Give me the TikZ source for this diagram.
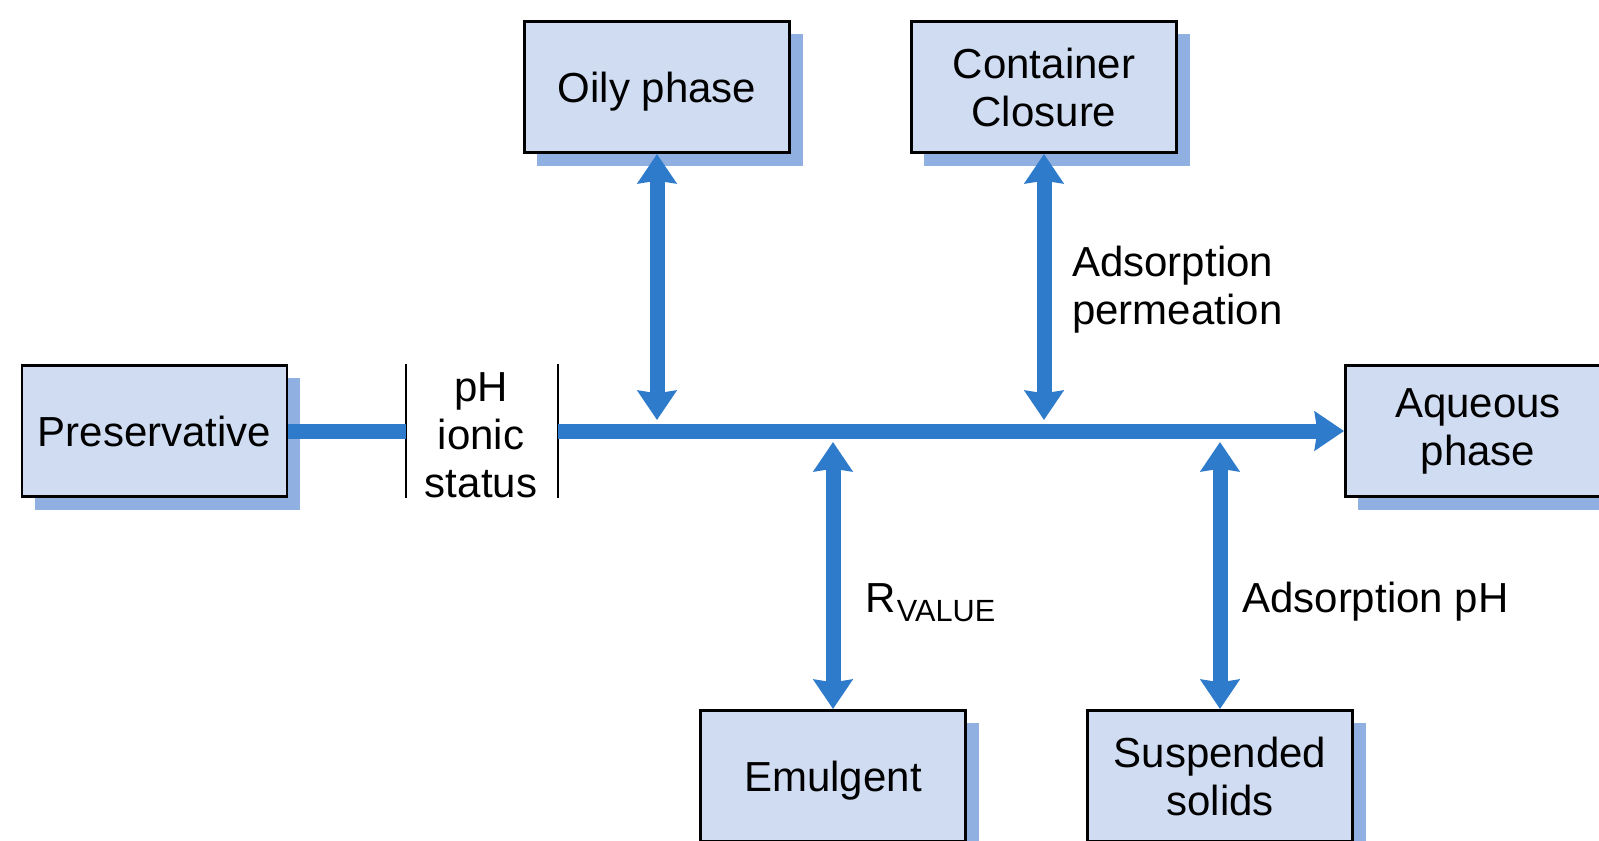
\documentclass[tikz,border=0pt]{standalone}
\usepackage{fontspec}
\setmainfont{Liberation Sans}
\usetikzlibrary{arrows.meta}
\definecolor{boxfill}{HTML}{D0DCF2}
\definecolor{shadowc}{HTML}{8FB0E0}
\definecolor{flow}{HTML}{2E7BCB}
\newcommand{\bigtxt}{\fontsize{31.5}{36}\selectfont}
\begin{document}
\begin{tikzpicture}[x=0.75pt,y=-0.75pt,
  box/.style={draw=black, line width=1.9pt, fill=boxfill, minimum width=199pt,
    minimum height=98.6pt, inner sep=0pt, align=center, font=\bigtxt,
    preaction={fill=shadowc, transform canvas={xshift=9.75pt,yshift=-9.75pt}}},
  oneline/.style={text height=30.5pt, text depth=6.6pt},
  conn/.style={draw=flow, line width=11.25pt},
  tipA/.style={-{Stealth[length=22pt,width=29pt,inset=2pt]}},
  tipAB/.style={{Stealth[length=22pt,width=29pt,inset=2pt]}-{Stealth[length=22pt,width=29pt,inset=2pt]}},
  lbl/.style={inner sep=0pt, font=\bigtxt, align=left},
  barline/.style={draw=black, line width=1.9pt}]
\useasboundingbox (0,0) rectangle (1599,840);
\clip (0,0) rectangle (1599,840);
% boxes
\node[box,oneline] (pres) at (154.5,431) {Preservative};
\node[box] (aq) at (1478,431) {Aqueous\\phase};
\node[box,oneline] (oily) at (657,87) {Oily phase};
\node[box] (cont) at (1044,87) {Container\\Closure};
\node[box,oneline] (emul) at (833,776) {Emulgent};
\node[box] (susp) at (1220,776) {Suspended\\solids};
% pH block
\node[inner sep=0pt, outer sep=0pt, minimum width=114pt, minimum height=100pt] (ph) at (482,431) {};
\node[inner sep=0pt, align=center, font=\bigtxt] (phtxt) at (481,435.5) {pH\\ionic\\status};
\draw[barline] (ph.north west) -- (ph.south west);
\draw[barline] (ph.north east) -- (ph.south east);
% junctions on the main line
\coordinate (jo) at (657,420);
\coordinate (jc) at (1044,420);
\coordinate (je) at (833,442);
\coordinate (js) at (1220,442);
% main line
\draw[conn] (pres.east) -- (ph.west);
\draw[conn,tipA] (ph.east) -- (aq.west);
% double arrows
\draw[conn,tipAB] (oily.south) -- (jo);
\draw[conn,tipAB] (cont.south) -- (jc);
\draw[conn,tipAB] (je) -- (emul.north);
\draw[conn,tipAB] (js) -- (susp.north);
% labels
\node[lbl, anchor=west] (lperm) at (1072,290) {Adsorption\\permeation};
\node[lbl, anchor=base west] (lr) at (865,612) {R\kern1pt\raisebox{-7pt}{\fontsize{23}{26}\selectfont VALUE}};
\node[lbl, anchor=base west] (lph) at (1242,612) {Adsorption pH};
\end{tikzpicture}
\end{document}
